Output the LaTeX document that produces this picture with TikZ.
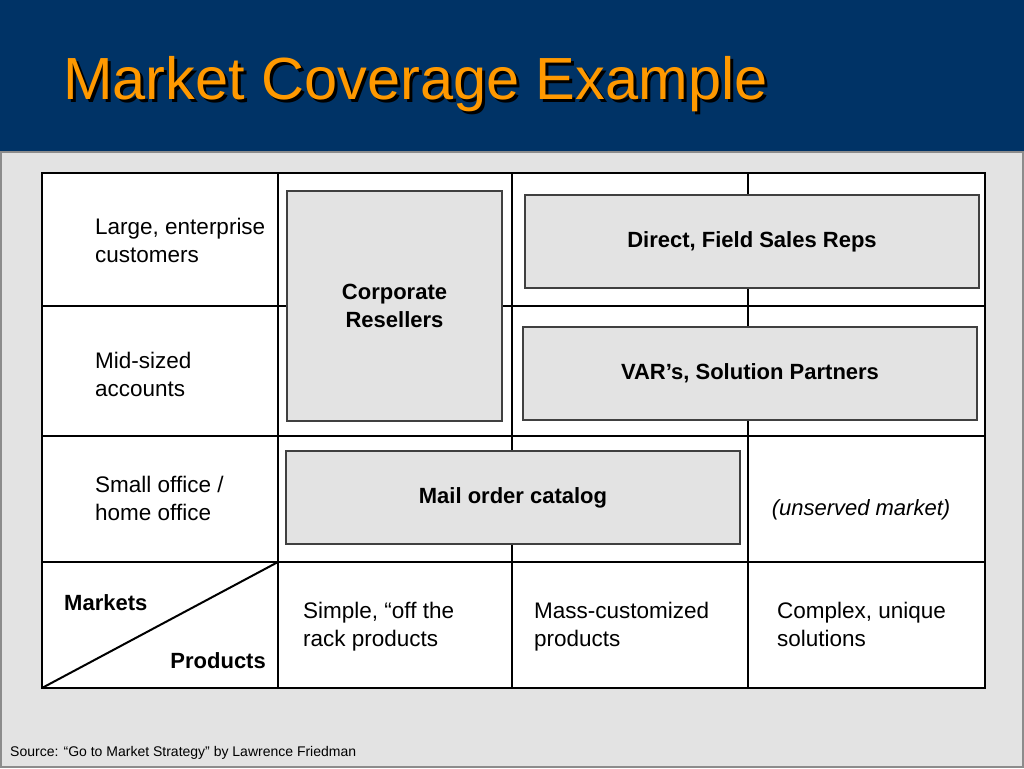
\documentclass[tikz,border=0pt]{standalone}
\usepackage{fontspec}
\setmainfont{Liberation Sans}
\definecolor{navy}{RGB}{0,51,102}
\definecolor{gold}{RGB}{255,153,0}
\definecolor{panel}{RGB}{227,227,227}
\tikzset{
	grid/.style={line width=2.6,color=black},
	cell/.style={align=left,anchor=base west,inner sep=0,font=\fontsize{22.5}{27.5}\selectfont},
	axislabel/.style={inner sep=0,font=\fontsize{22}{27}\selectfont\bfseries},
	chan/.style={draw=black!75,line width=1.2,fill=panel,align=center,font=\fontsize{22}{27.5}\selectfont\bfseries},
	titletext/.style={anchor=base west,inner sep=0,font=\fontsize{59.5}{70}\selectfont}
}
\begin{document}
\begin{tikzpicture}[x=1pt,y=-1pt]
		\useasboundingbox (0,0) rectangle (1024,768);
		%%%background
		\fill[navy] (0,0) rectangle (1024,152);
		\draw[draw=black!45,line width=2,fill=panel] (1,152) rectangle (1023,767);
		\node[titletext,text=black] (titleshadow) at (66,102) {Market Coverage Example};
		\node[titletext,text=gold] (title) at (63,99) {Market Coverage Example};
		
		%%%grid
		\fill[white] (42,173) rectangle (985,688);
		\draw[grid] (42,173) rectangle (985,688);
		\draw[grid] (278,173) -- (278,688) (512,173) -- (512,688) (748,173) -- (748,688);
		\draw[grid] (42,306) -- (985,306) (42,436) -- (985,436) (42,562) -- (985,562);
		\draw[grid,line width=2] (42,688) -- (278,562);
		
		%%%channels
		\node[chan,minimum width=215,minimum height=230] (corp) at (394.5,306) {Corporate\\Resellers};
		\node[chan,minimum width=454,minimum height=93] (direct) at (752,241.5) {Direct, Field Sales Reps};
		\node[chan,minimum width=454,minimum height=93] (var) at (750,373.5) {VAR’s, Solution Partners};
		\node[chan,minimum width=454,minimum height=93] (mail) at (513,497.5) {Mail order catalog};
		\node[anchor=base,inner sep=0,font=\fontsize{22}{27}\selectfont\itshape] (unserved) at (861,515) {(unserved market)};
		
		%%%markets (base = last line)
		\node[cell] (large) at (95,262) {Large, enterprise\\customers};
		\node[cell] (mid) at (95,396) {Mid-sized\\accounts};
		\node[cell] (small) at (95,520) {Small office /\\home office};
		
		%%%products
		\node[axislabel,anchor=base west] (markets) at (64,610) {Markets};
		\node[axislabel,anchor=base east] (products) at (266,668) {Products};
		\node[cell] (simple) at (303,646) {Simple, “off the\\rack products};
		\node[cell] (mass) at (534,646) {Mass-customized\\products};
		\node[cell] (complex) at (777,646) {Complex, unique\\solutions};
		
		\node[anchor=base west,inner sep=0,font=\fontsize{14}{17}\selectfont] (source) at (10,756) {Source: “Go to Market Strategy” by Lawrence Friedman};
	\end{tikzpicture}
\end{document}
